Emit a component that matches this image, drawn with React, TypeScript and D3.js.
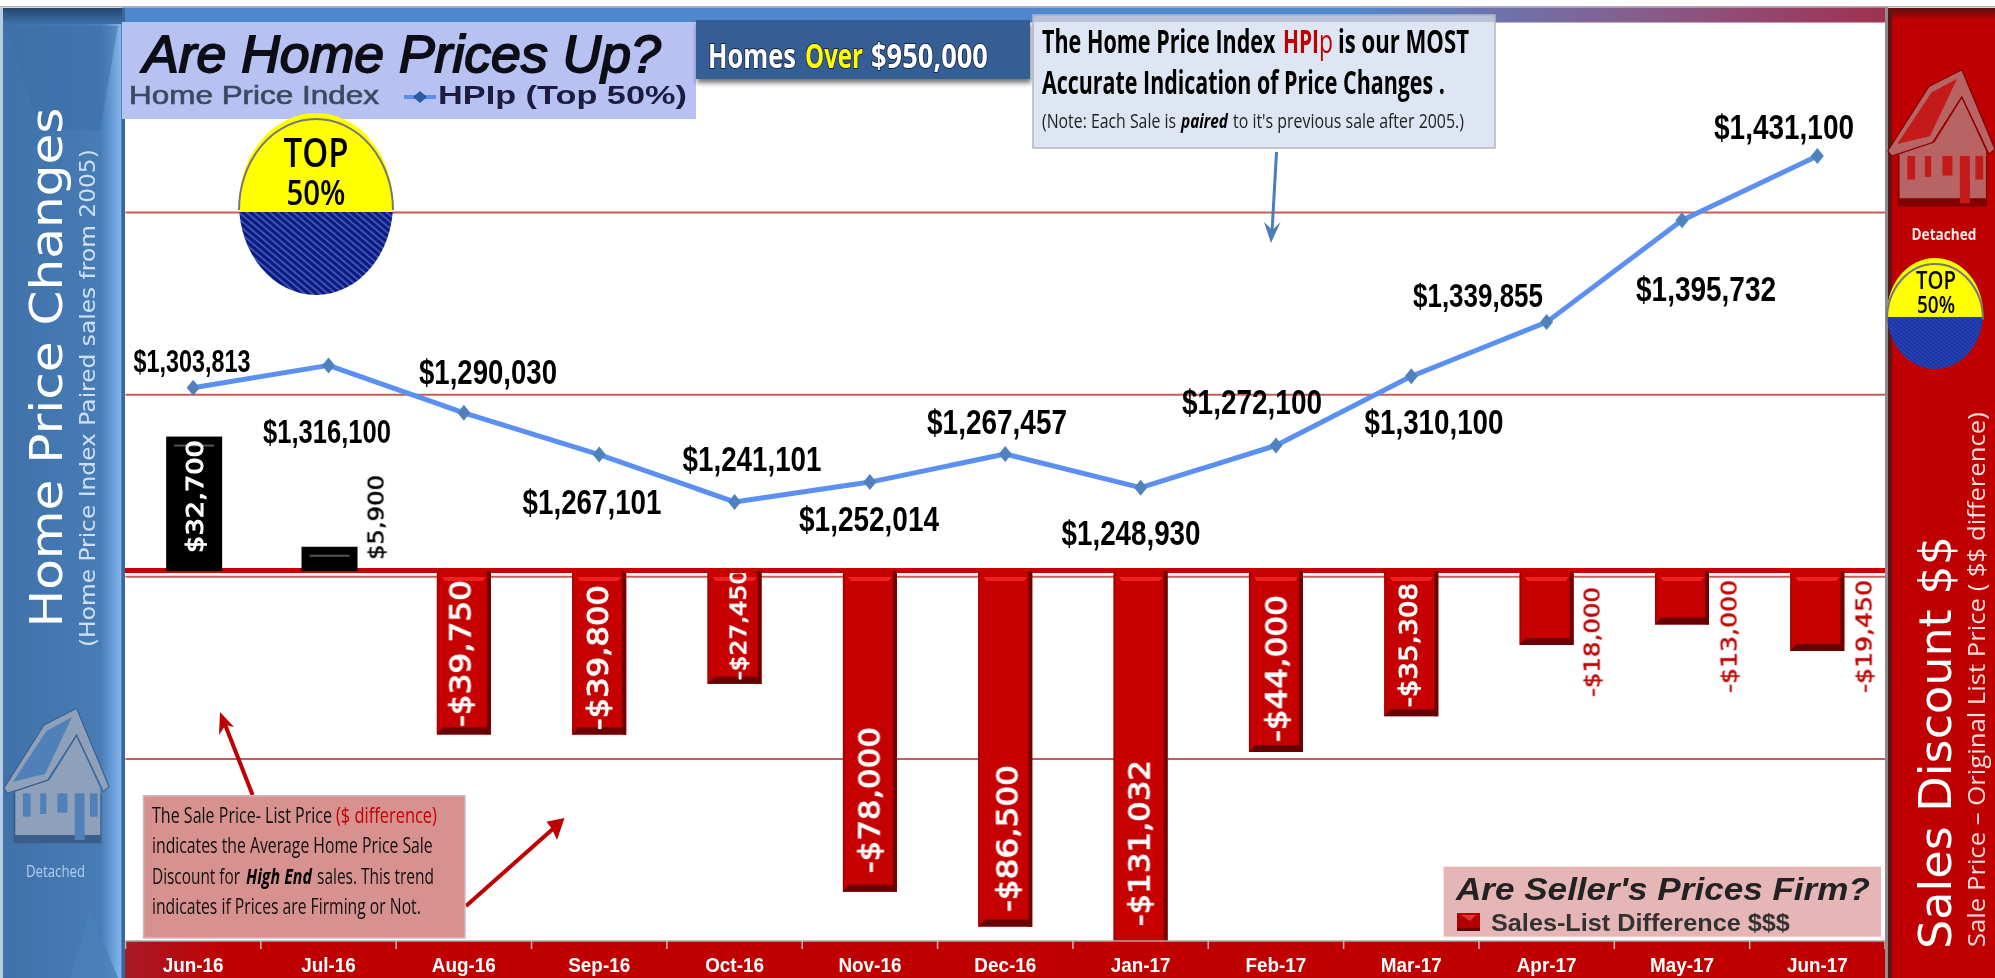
import React from "react";
import * as d3 from "d3";

// ---------- data ----------
const months = ["Jun-16","Jul-16","Aug-16","Sep-16","Oct-16","Nov-16","Dec-16","Jan-17","Feb-17","Mar-17","Apr-17","May-17","Jun-17"];
const hpiValues = [1303813,1316100,1290030,1267101,1241101,1252014,1267457,1248930,1272100,1310100,1339855,1395732,1431100];
const discountValues = [32700,5900,-39750,-39800,-27450,-78000,-86500,-131032,-44000,-35308,-18000,-13000,-19450];
const gridValues = [1100000,1300000,1400000,1200000];

// ---------- layout (separate from the data) ----------
const W = 1995, H = 978;
const plot = { l: 125.5, r: 1885, t: 22, b: 941 };
const hpiLabelLayout = [
  { cx: 192, cy: 361, len: 117, size: 31 }, { cx: 327, cy: 431, len: 128, size: 33 },
  { cx: 488, cy: 371, len: 138, size: 35 }, { cx: 592, cy: 501, len: 139, size: 35 },
  { cx: 752, cy: 458, len: 139, size: 35 }, { cx: 869, cy: 518, len: 140, size: 35 },
  { cx: 997, cy: 421, len: 140, size: 35 }, { cx: 1131, cy: 532, len: 139, size: 35 },
  { cx: 1252, cy: 401, len: 140, size: 35 }, { cx: 1434, cy: 421, len: 139, size: 35 },
  { cx: 1478, cy: 295, len: 130, size: 33 }, { cx: 1706, cy: 288, len: 140, size: 35 },
  { cx: 1784, cy: 126, len: 140, size: 35 },
];
const barLabelLayout = [
  { x: 195, y0: 553, len: 113, size: 23, color: "#fff", inBar: true },
  { x: 376, y0: 560, len: 85, size: 21, color: "#000", inBar: false },
  { x: 460, y0: 727, len: 147, size: 29, color: "#fff", inBar: true },
  { x: 597.5, y0: 730, len: 145, size: 29, color: "#fff", inBar: true },
  { x: 738, y0: 680, len: 111, size: 22, color: "#fff", inBar: true },
  { x: 869, y0: 873, len: 146, size: 29, color: "#fff", inBar: true },
  { x: 1007, y0: 912, len: 147, size: 29, color: "#fff", inBar: true },
  { x: 1139, y0: 926, len: 166, size: 29, color: "#fff", inBar: true },
  { x: 1276, y0: 742, len: 147, size: 29, color: "#fff", inBar: true },
  { x: 1408, y0: 707, len: 124, size: 25, color: "#fff", inBar: true },
  { x: 1592, y0: 697, len: 110, size: 21, color: "#c00000", inBar: false },
  { x: 1729, y0: 693, len: 113, size: 21, color: "#c00000", inBar: false },
  { x: 1864, y0: 693, len: 113, size: 21, color: "#c00000", inBar: false },
];

// ---------- scales ----------
const x = d3.scaleBand<string>().domain(months).range([plot.l, plot.r]);
const yHpi = d3.scaleLinear().domain([1000000, 1500000]).range([941, 30.5]);
const yDisc = d3.scaleLinear().domain([-90000, 45000]).range([941, 386]).clamp(true);
const money = d3.formatLocale({ decimal: ".", thousands: ",", grouping: [3], currency: ["$", ""], minus: "-" }).format("$,");
const BW = 54;

const SANS = "'Liberation Sans', Arial, sans-serif";
const DEJA = "'DejaVu Sans', Verdana, sans-serif";
const NOTO = "'Open Sans', 'Noto Sans', sans-serif";

const linePath = d3.line<number>()
  .x((_, i) => (x(months[i]) as number) + x.bandwidth() / 2)
  .y((d) => yHpi(d))(hpiValues) as string;

const measureCtx = document.createElement("canvas").getContext("2d") as CanvasRenderingContext2D;
const measure = (s: string, size: number, font: string, weight: any, italic?: boolean) => {
  measureCtx.font = `${italic ? "italic " : ""}${weight} ${size}px ${font}`;
  return measureCtx.measureText(s).width || 1;
};

type TP = { x: number; y: number; len: number; size: number; fill?: string; font?: string; weight?: any; italic?: boolean; anchor?: string; children: string; stroke?: string; sw?: number };
// Text squeezed or stretched horizontally to the width it has in the reference.
const T = ({ x, y, len, size, fill = "#000", font = SANS, weight = "normal", italic, anchor = "start", children, stroke, sw }: TP) => {
  const sx = len / measure(children, size, font, weight, italic);
  return (
    <text transform={`translate(${x},${y}) scale(${sx},1)`} fontSize={size} fill={fill} fontFamily={font} fontWeight={weight}
      fontStyle={italic ? "italic" : "normal"} textAnchor={anchor} stroke={stroke} strokeWidth={sw} paintOrder="stroke">{children}</text>
  );
};

const ROOF = "M10,325 L115,135 L200,85 L285,320 L270,335 L200,165 L125,300 L20,340 Z";
const House = ({ transform, body, shadow, win }: { transform: string; body: string; shadow: string; win: string }) => (
  <g transform={transform}>
    <path d="M35,340 H265 V490 H35 Z" fill={shadow} />
    <path d="M40,335 L130,300 L200,170 L262,325 V465 H40 Z" fill={body} />
    <path d={ROOF} fill={body} stroke={shadow} strokeWidth={3} />
    <path d="M34,305 L122,152 L188,112 L118,282 Z" fill={win} />
    {[[60, 340, 20, 70], [105, 340, 16, 62], [150, 340, 26, 58], [195, 340, 26, 140], [235, 340, 20, 70]].map((r, i) => (
      <rect key={i} x={r[0]} y={r[1]} width={r[2]} height={r[3]} fill={win} />
    ))}
  </g>
);

const Disc = ({ id, cx, cy, rx, ry, split, color }: { id: string; cx: number; cy: number; rx: number; ry: number; split: number; color: string }) => (
  <g>
    <clipPath id={id}><ellipse cx={cx} cy={cy} rx={rx} ry={ry} /></clipPath>
    <g clipPath={`url(#${id})`}>
      <rect x={cx - rx} y={cy - ry} width={2 * rx} height={split - cy + ry} fill="#ffff00" />
      <rect x={cx - rx} y={split} width={2 * rx} height={cy + ry - split} fill={color} />
    </g>
    <path d={`M${cx - rx},${cy + 6} A${rx},${ry} 0 0 1 ${cx + rx},${cy + 6}`} fill="none" stroke="#777" strokeWidth={2} />
  </g>
);

export default function App() {
  return (
    <svg width={W} height={H} viewBox={`0 0 ${W} ${H}`} style={{ position: "absolute", left: 0, top: 0, display: "block" }}>
      <defs>
        <linearGradient id="stripe" x1="0" x2="1" y1="0" y2="0">
          <stop offset="0" stopColor="#5088cf" /><stop offset="0.7" stopColor="#5088cf" />
          <stop offset="0.85" stopColor="#85608f" /><stop offset="1" stopColor="#a03050" />
        </linearGradient>
        <linearGradient id="leftPanel" x1="0" x2="1" y1="0" y2="0">
          <stop offset="0" stopColor="#3f72a9" /><stop offset="0.8" stopColor="#487cb5" />
          <stop offset="0.9" stopColor="#6a9ed8" /><stop offset="0.965" stopColor="#84b4ec" /><stop offset="0.975" stopColor="#3a689c" /><stop offset="1" stopColor="#3a689c" />
        </linearGradient>
        <linearGradient id="axisBand" x1="0" x2="1" y1="0" y2="0">
          <stop offset="0" stopColor="#a81a28" /><stop offset="0.06" stopColor="#c00000" /><stop offset="1" stopColor="#c00000" />
        </linearGradient>
        <linearGradient id="topDark" x1="0" x2="0" y1="0" y2="1">
          <stop offset="0" stopColor="#24466f" /><stop offset="1" stopColor="#3f72a9" />
        </linearGradient>
        <linearGradient id="topDarkR" x1="0" x2="0" y1="0" y2="1">
          <stop offset="0" stopColor="#5a1010" /><stop offset="1" stopColor="#c00000" />
        </linearGradient>
        <pattern id="hatch" width="5" height="5" patternUnits="userSpaceOnUse" patternTransform="rotate(-50)">
          <rect width="5" height="5" fill="#0a1a80" /><rect width="1.6" height="5" fill="#4a5fc0" />
        </pattern>
        <pattern id="hatch2" width="3" height="3" patternUnits="userSpaceOnUse" patternTransform="rotate(-50)">
          <rect width="3" height="3" fill="#1c34a4" /><rect width="1" height="3" fill="#2c48b8" />
        </pattern>
        <filter id="boxShadow" x="-5%" y="-10%" width="110%" height="130%"><feDropShadow dx="1" dy="4" stdDeviation="2.5" floodColor="#000" floodOpacity="0.55" /></filter>
        <filter id="soft" x="-5%" y="-5%" width="110%" height="110%"><feGaussianBlur stdDeviation="0.45" /></filter>
        <clipPath id="plotClip"><rect x={plot.l} y={plot.t} width={plot.r - plot.l} height={plot.b - plot.t} /></clipPath>
        <clipPath id="octClip"><rect x={700} y={573} width={70} height={120} /></clipPath>
      </defs>

      <rect width={W} height={H} fill="#fff" />
      <rect x={0} y={6} width={W} height={1.5} fill="#b0b0b0" />
      <rect x={122} y={7.5} width={1766} height={15} fill="url(#stripe)" />

      {/* gridlines */}
      {gridValues.map((g) => (
        <line key={g} x1={plot.l} x2={plot.r} y1={yHpi(g)} y2={yHpi(g)} stroke="#cc5a5a" strokeWidth={2} />
      ))}
      <rect x={plot.l - 3} y={568} width={plot.r - plot.l + 3} height={5} fill="#c80000" />

      {/* bars */}
      <g clipPath="url(#plotClip)">
        {discountValues.map((v, i) => {
          const bx = (x(months[i]) as number) + x.bandwidth() / 2 - BW / 2;
          const y0 = yDisc(Math.max(v, 0)), y1 = yDisc(Math.min(v, 0));
          const h = y1 - y0;
          if (v > 0) {
            return (
              <g key={i}>
                <rect x={bx} y={y0} width={BW + 2} height={h} fill="#000" />
                <rect x={bx + 8} y={y0 + 8} width={40} height={2} fill="#555" />
              </g>
            );
          }
          const clipped = v < -90000;
          return (
            <g key={i}>
              <rect x={bx} y={y0} width={BW} height={h} fill="#c60000" />
              <path d={`M${bx + 5},${y0 + 6} L${bx + BW - 5},${y0 + 6} L${bx + BW - 8},${y0 + 10} L${bx + 8},${y0 + 10} Z`} fill="#f02020" />
              <rect x={bx + BW - 4} y={y0} width={4} height={h} fill="#700000" />
              <rect x={bx} y={y0} width={1.5} height={h} fill="#a00000" />
              {!clipped && <path d={`M${bx},${y1} L${bx + 6},${y1 - 7} H${bx + BW - 4} L${bx + BW},${y1} Z`} fill="#680000" />}
            </g>
          );
        })}
      </g>

      {/* bar labels */}
      <g filter="url(#soft)">
        {discountValues.map((v, i) => {
          const l = barLabelLayout[i];
          return (
            <g key={i} clipPath={i === 4 ? "url(#octClip)" : undefined}>
              <g transform={`translate(${l.x + l.size * 0.36},${l.y0}) rotate(-90)`}>
                <T x={0} y={0} len={l.len} size={l.size} fill={l.color} font={DEJA} stroke={l.color} sw={l.inBar ? 1 : 0.5}>{money(v)}</T>
              </g>
            </g>
          );
        })}
      </g>

      {/* HPI line */}
      <path d={linePath} fill="none" stroke="#5b90f0" strokeWidth={5} strokeLinejoin="round" />
      {hpiValues.map((v, i) => {
        const cx = (x(months[i]) as number) + x.bandwidth() / 2, cy = yHpi(v);
        return <path key={i} d={`M${cx},${cy - 8} L${cx + 6.5},${cy} L${cx},${cy + 8} L${cx - 6.5},${cy} Z`} fill="#4f81bd" />;
      })}
      <g filter="url(#soft)">
        {hpiValues.map((v, i) => {
          const l = hpiLabelLayout[i];
          return <T key={i} x={l.cx} y={l.cy + l.size * 0.36} len={l.len} size={l.size} anchor="middle" weight="bold">{money(v)}</T>;
        })}
      </g>

      {/* bottom axis */}
      <rect x={122} y={941} width={plot.r - 122} height={H - 941} fill="url(#axisBand)" />
      <line x1={122} x2={plot.r} y1={941} y2={941} stroke="#aaa" strokeWidth={1.5} />
      {months.map((m) => (
        <line key={m} x1={x(m) as number} x2={x(m) as number} y1={941} y2={949} stroke="#d8b8b8" strokeWidth={1.5} />
      ))}
      <line x1={plot.r} x2={plot.r} y1={941} y2={949} stroke="#d8b8b8" strokeWidth={1.5} />
      <g filter="url(#soft)">
        {months.map((m) => (
          <text key={m} transform={`translate(${(x(m) as number) + x.bandwidth() / 2},971.5) scale(0.9,1)`} textAnchor="middle" fontSize={21} fontWeight="bold" fontFamily={SANS} fill="#fff">{m}</text>
        ))}
      </g>

      {/* left panel */}
      <rect x={3} y={8} width={122} height={H - 8} fill="url(#leftPanel)" />
      <rect x={0} y={8} width={3} height={H - 8} fill="#b8cce4" />
      <rect x={3} y={8} width={119} height={16} fill="url(#topDark)" />
      <path d="M6,26 L118,26 L100,130 L40,130 Z" fill="#3c6fa6" opacity={0.55} />
      <path d="M90,910 L118,978 H70 Z" fill="#4a7fb8" opacity={0.8} />
      <House transform="translate(0,680) scale(0.3827,0.3333)" body="#8ea0ba" shadow="#3a5e8c" win="#5080b8" />
      <g filter="url(#soft)">
        <g transform="translate(62,627.5) rotate(-90)"><T x={0} y={0} len={520} size={45} fill="#fff" font={DEJA}>Home Price Changes</T></g>
        <g transform="translate(95,647) rotate(-90)"><T x={0} y={0} len={498} size={21} fill="#cfe0f6" font={DEJA}>(Home Price Index Paired sales from 2005)</T></g>
        <T x={55.5} y={877} len={59} size={16} anchor="middle" fill="#b4cdec" font={NOTO}>Detached</T>
      </g>

      {/* right panel */}
      <rect x={1885} y={8} width={110} height={H - 8} fill="#c00000" />
      <rect x={1885} y={8} width={110} height={12} fill="url(#topDarkR)" />
      <rect x={1885} y={8} width={3} height={H - 8} fill="#8c8c8c" />
      <rect x={1888} y={8} width={4} height={H - 8} fill="#5e1414" />
      <House transform="translate(1884,41) scale(0.389,0.338)" body="#b86464" shadow="#800000" win="#c41a1a" />
      <g filter="url(#soft)">
        <T x={1944} y={240} len={65} size={16} anchor="middle" fill="#fde8e8" font={NOTO} weight="bold">Detached</T>
      </g>
      <Disc id="d2" cx={1935} cy={313.5} rx={48} ry={55.5} split={317} color="url(#hatch2)" />
      <g filter="url(#soft)">
        <T x={1936} y={289} len={40} size={25} anchor="middle" font={NOTO} weight={600}>TOP</T>
        <T x={1936} y={313} len={38} size={23} anchor="middle" font={NOTO} weight={600}>50%</T>
        <g transform="translate(1951,949) rotate(-90)"><T x={0} y={0} len={413} size={45} fill="#fff" font={DEJA}>Sales Discount $$</T></g>
        <g transform="translate(1985,947) rotate(-90)"><T x={0} y={0} len={535} size={23} fill="#f6dcdc" font={NOTO}>Sale Price – Original List Price ( $$ difference)</T></g>
      </g>

      {/* title box */}
      <rect x={122} y={22} width={574} height={97} fill="#b8c2f2" />
      <g filter="url(#soft)">
        <T x={143} y={72} len={518} size={52} italic fill="#0c0c14" stroke="#0c0c14" sw={1.8}>Are Home Prices Up?</T>
        <T x={129} y={104} len={250} size={25} fill="#3a4a60" stroke="#3a4a60" sw={0.6}>Home Price Index</T>
        <T x={438} y={104} len={249} size={25} weight="bold" fill="#1a1a40">HPIp (Top 50%)</T>
      </g>
      <line x1={404} x2={436} y1={97} y2={97} stroke="#5b90f0" strokeWidth={4} />
      <path d="M420,91 L427,97 L420,103 L413,97 Z" fill="#2a5aa0" />
      <Disc id="d1" cx={316} cy={204} rx={77} ry={91} split={212} color="url(#hatch)" />
      <g filter="url(#soft)">
        <T x={316} y={167} len={65} size={39} anchor="middle" font={NOTO} weight={600}>TOP</T>
        <T x={316} y={205} len={59} size={35} anchor="middle" font={NOTO} weight={600}>50%</T>
      </g>

      {/* homes box */}
      <rect x={696} y={20} width={334} height={59} fill="#355f94" filter="url(#boxShadow)" />
      <T x={708} y={68} len={88} size={34} font={NOTO} weight={700} fill="#fff" stroke="#16284a" sw={2}>Homes</T>
      <T x={805} y={68} len={58} size={34} font={NOTO} weight={700} fill="#ffff00" stroke="#16284a" sw={2}>Over</T>
      <T x={871} y={68} len={117} size={34} font={NOTO} weight={700} fill="#fff" stroke="#16284a" sw={2}>$950,000</T>

      {/* note box */}
      <rect x={1033} y={15} width={462} height={133} fill="#dde6f2" stroke="#b4b4c0" strokeWidth={1.5} />
      <rect x={1033} y={15} width={462} height={7} fill="#a8b4cc" opacity={0.7} />
      <g filter="url(#soft)">
        <T x={1042} y={53} len={233.5} size={32} font={NOTO} weight={700}>The Home Price Index</T>
        <T x={1283} y={53} len={36} size={32} font={NOTO} weight={700} fill="#c00000">HPI</T>
        <T x={1319} y={53} len={14} size={32} font={NOTO} fill="#c00000">p</T>
        <T x={1338} y={53} len={131} size={32} font={NOTO} weight={700}>is our MOST</T>
        <T x={1042} y={94} len={403} size={32} font={NOTO} weight={700}>Accurate Indication of Price Changes .</T>
        <T x={1042} y={128} len={134} size={20} font={NOTO} fill="#222">(Note: Each Sale is</T>
        <T x={1181} y={128} len={47} size={20} font={NOTO} fill="#000" weight={700} italic>paired</T>
        <T x={1233} y={128} len={231} size={20} font={NOTO} fill="#222">to it's previous sale after 2005.)</T>
      </g>
      <line x1={1276.5} y1={152} x2={1272} y2={232} stroke="#4a7ebb" strokeWidth={3} />
      <path d="M1271,243 L1264,222 L1272.5,230 L1280.6,222 Z" fill="#4a7ebb" />

      {/* red note */}
      <line x1={252.6} y1={795} x2={224} y2={722} stroke="#c00000" strokeWidth={4} />
      <path d="M220,712 L219,735 L225.5,725 L234,727 Z" fill="#c00000" />
      <line x1={466} y1={906} x2={555} y2={827} stroke="#c00000" strokeWidth={4} />
      <path d="M564.5,818 L546.5,821.7 L552,829 L557,840 Z" fill="#c00000" />
      <rect x={143.5} y={795.7} width={321.5} height={142.3} fill="#d79290" stroke="#cdbcbc" strokeWidth={1.5} />
      <g filter="url(#soft)">
        <T x={152} y={823} len={180} size={22} font={NOTO} fill="#111">The Sale Price- List Price</T>
        <T x={336} y={823} len={101} size={22} font={NOTO} fill="#c00000">($ difference)</T>
        <T x={152} y={853} len={281} size={22} font={NOTO} fill="#111">indicates the Average Home Price Sale</T>
        <T x={152} y={884} len={88} size={22} font={NOTO} fill="#111">Discount for</T>
        <T x={246} y={884} len={66} size={22} font={NOTO} fill="#000" weight={700} italic>High End</T>
        <T x={317} y={884} len={117} size={22} font={NOTO} fill="#111">sales. This trend</T>
        <T x={152} y={914} len={269} size={22} font={NOTO} fill="#111">indicates if Prices are Firming or Not.</T>
      </g>

      {/* legend box */}
      <rect x={1443.6} y={866.7} width={437.4} height={70} fill="#e6b6b6" />
      <g filter="url(#soft)">
        <T x={1456} y={900} len={414} size={31} italic weight="bold" fill="#222">Are Seller's Prices Firm?</T>
        <T x={1491} y={930.7} len={299} size={23} weight="bold" fill="#333">Sales-List Difference $$$</T>
      </g>
      <rect x={1457} y={913} width={23} height={18} fill="#b00000" />
      <rect x={1457} y={928} width={23} height={3} fill="#680000" />
      <path d="M1461,915 H1476 L1470,921 Z" fill="#e83030" />
    </svg>
  );
}
